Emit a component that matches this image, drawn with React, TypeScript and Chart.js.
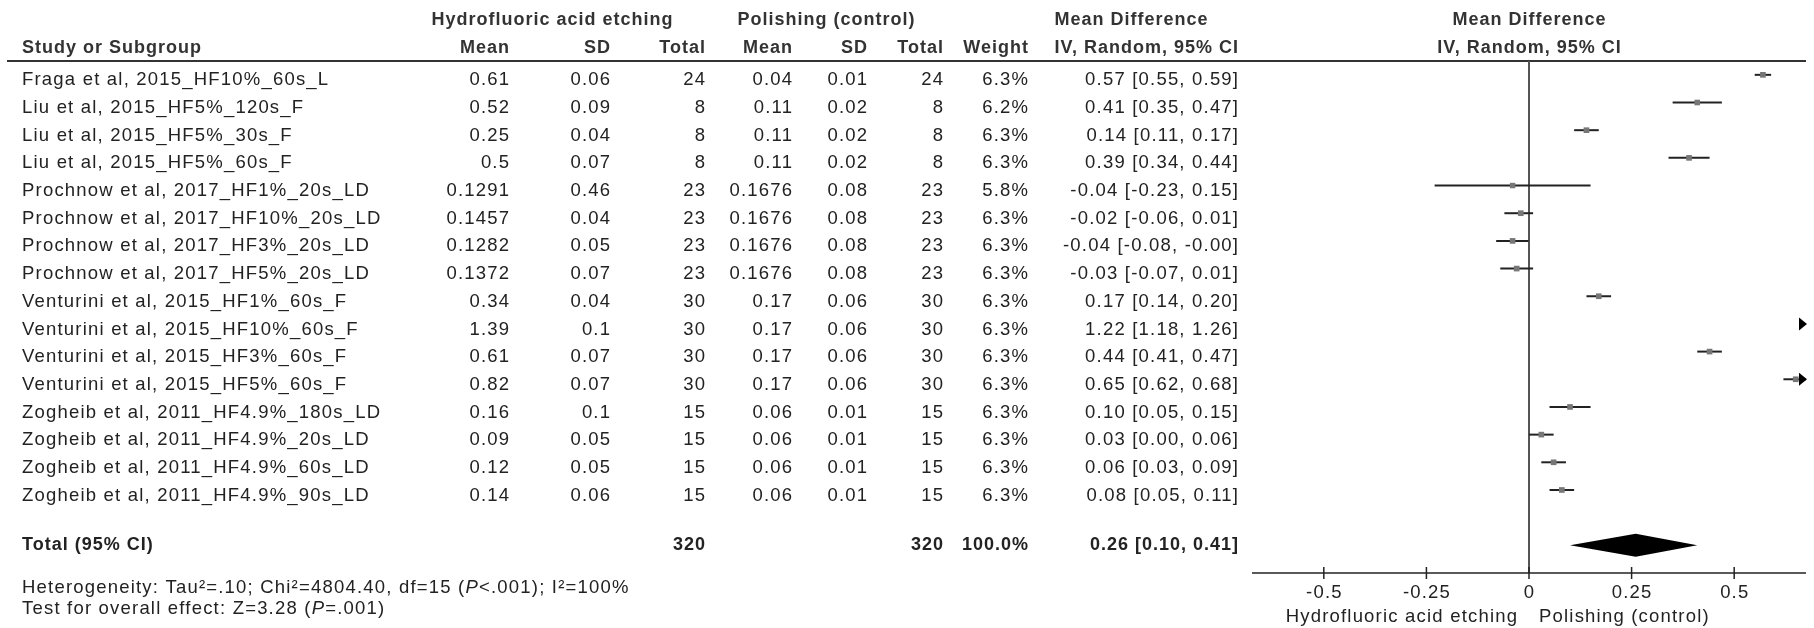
import React, { useEffect, useRef } from "react";
import { Chart, registerables } from "chart.js";

Chart.register(...registerables);

// ---------------- data ----------------
const studies = [
  "Fraga et al, 2015_HF10%_60s_L",
  "Liu et al, 2015_HF5%_120s_F",
  "Liu et al, 2015_HF5%_30s_F",
  "Liu et al, 2015_HF5%_60s_F",
  "Prochnow et al, 2017_HF1%_20s_LD",
  "Prochnow et al, 2017_HF10%_20s_LD",
  "Prochnow et al, 2017_HF3%_20s_LD",
  "Prochnow et al, 2017_HF5%_20s_LD",
  "Venturini et al, 2015_HF1%_60s_F",
  "Venturini et al, 2015_HF10%_60s_F",
  "Venturini et al, 2015_HF3%_60s_F",
  "Venturini et al, 2015_HF5%_60s_F",
  "Zogheib et al, 2011_HF4.9%_180s_LD",
  "Zogheib et al, 2011_HF4.9%_20s_LD",
  "Zogheib et al, 2011_HF4.9%_60s_LD",
  "Zogheib et al, 2011_HF4.9%_90s_LD",
];
const hfMean = [0.61, 0.52, 0.25, 0.5, 0.1291, 0.1457, 0.1282, 0.1372, 0.34, 1.39, 0.61, 0.82, 0.16, 0.09, 0.12, 0.14];
const hfSD = [0.06, 0.09, 0.04, 0.07, 0.46, 0.04, 0.05, 0.07, 0.04, 0.1, 0.07, 0.07, 0.1, 0.05, 0.05, 0.06];
const hfTotal = [24, 8, 8, 8, 23, 23, 23, 23, 30, 30, 30, 30, 15, 15, 15, 15];
const polMean = [0.04, 0.11, 0.11, 0.11, 0.1676, 0.1676, 0.1676, 0.1676, 0.17, 0.17, 0.17, 0.17, 0.06, 0.06, 0.06, 0.06];
const polSD = [0.01, 0.02, 0.02, 0.02, 0.08, 0.08, 0.08, 0.08, 0.06, 0.06, 0.06, 0.06, 0.01, 0.01, 0.01, 0.01];
const polTotal = [24, 8, 8, 8, 23, 23, 23, 23, 30, 30, 30, 30, 15, 15, 15, 15];
const weights = [6.3, 6.2, 6.3, 6.3, 5.8, 6.3, 6.3, 6.3, 6.3, 6.3, 6.3, 6.3, 6.3, 6.3, 6.3, 6.3];
const md = [0.57, 0.41, 0.14, 0.39, -0.04, -0.02, -0.04, -0.03, 0.17, 1.22, 0.44, 0.65, 0.1, 0.03, 0.06, 0.08];
const ciLow = [0.55, 0.35, 0.11, 0.34, -0.23, -0.06, -0.08, -0.07, 0.14, 1.18, 0.41, 0.62, 0.05, 0.0, 0.03, 0.05];
const ciHigh = [0.59, 0.47, 0.17, 0.44, 0.15, 0.01, -0.001, 0.01, 0.2, 1.26, 0.47, 0.68, 0.15, 0.06, 0.09, 0.11];

const totalHF = 320;
const totalPol = 320;
const totalWeight = 100.0;
const totalMD = 0.26;
const totalLow = 0.1;
const totalHigh = 0.41;

const xTicks = [-0.5, -0.25, 0, 0.25, 0.5];
const xTickLabels = ["-0.5", "-0.25", "0", "0.25", "0.5"];
const X_MIN = -0.675;
const X_MAX = 0.675;
const TOTAL_ROW = 17;

const groupHeaders = ["Hydrofluoric acid etching", "Polishing (control)", "Mean Difference"];
const colHeaders = ["Study or Subgroup", "Mean", "SD", "Total", "Mean", "SD", "Total", "Weight", "IV, Random, 95% CI"];
const heterogeneity = [
  { t: "Heterogeneity: Tau²=.10; Chi²=4804.40, df=15 (" },
  { t: "P", i: true },
  { t: "<.001); I²=100%" },
];
const overallEffect = [{ t: "Test for overall effect: Z=3.28 (" }, { t: "P", i: true }, { t: "=.001)" }];
const favoursLeft = "Hydrofluoric acid etching";
const favoursRight = "Polishing (control)";

// ---------------- layout / style ----------------
const FAMILY = '"Liberation Sans", Arial, Helvetica, sans-serif';
const REG_SIZE = 18.5;
const REG_SP = 1.2;
const BOLD_SIZE = 18;
const BOLD_SP = 1.0;
const TEXT_COLOR = "#222";
const HEAD_COLOR = "#333";

const COL = {
  study: 22,
  hfMean: 509,
  hfSD: 610,
  hfTotal: 705,
  polMean: 792,
  polSD: 867,
  polTotal: 943,
  weight: 1028,
  ci: 1238,
};
const HEAD_Y1 = 20.5;
const HEAD_Y2 = 48;
const TEXT_DY = 5.5;

type Seg = { t: string; i?: boolean; b?: boolean };

function setFont(ctx: CanvasRenderingContext2D, bold: boolean, italic = false) {
  const size = bold ? BOLD_SIZE : REG_SIZE;
  ctx.font = `${italic ? "italic " : ""}${bold ? "bold " : ""}${size}px ${FAMILY}`;
  (ctx as any).letterSpacing = `${bold ? BOLD_SP : REG_SP}px`;
}

function drawText(
  ctx: CanvasRenderingContext2D,
  s: string,
  x: number,
  y: number,
  align: CanvasTextAlign,
  bold = false,
  color = TEXT_COLOR
) {
  setFont(ctx, bold);
  ctx.fillStyle = color;
  ctx.textBaseline = "middle";
  const w = ctx.measureText(s).width;
  let left = x;
  if (align === "right") left = x - w + (bold ? BOLD_SP : REG_SP);
  else if (align === "center") left = x - w / 2 + (bold ? BOLD_SP : REG_SP) / 2;
  ctx.textAlign = "left";
  ctx.fillText(s, left, y);
}

function drawRich(ctx: CanvasRenderingContext2D, segs: Seg[], x: number, y: number) {
  let cx = x;
  ctx.textBaseline = "middle";
  ctx.textAlign = "left";
  ctx.fillStyle = TEXT_COLOR;
  for (const s of segs) {
    setFont(ctx, !!s.b, !!s.i);
    ctx.fillText(s.t, cx, y);
    cx += ctx.measureText(s.t).width;
  }
}

const fmt2 = (v: number) => v.toFixed(2);
const ciText = (m: number, lo: number, hi: number) => `${fmt2(m)} [${fmt2(lo)}, ${fmt2(hi)}]`;

const forestPlugin = {
  id: "forest",
  beforeDatasetsDraw(chart: any) {
    const { ctx, chartArea, scales } = chart;
    const x = scales.x;
    const y = scales.y;
    ctx.save();
    // header rule
    ctx.strokeStyle = "#333";
    ctx.lineWidth = 2;
    ctx.beginPath();
    ctx.moveTo(7, chartArea.top);
    ctx.lineTo(chartArea.right, chartArea.top);
    ctx.stroke();
    // line of no effect
    ctx.strokeStyle = "#555";
    ctx.lineWidth = 2;
    ctx.beginPath();
    ctx.moveTo(x.getPixelForValue(0), chartArea.top);
    ctx.lineTo(x.getPixelForValue(0), chartArea.bottom);
    ctx.stroke();
    // confidence intervals
    ctx.strokeStyle = "#222";
    ctx.lineWidth = 2;
    for (let i = 0; i < studies.length; i++) {
      const lo = Math.max(ciLow[i], X_MIN);
      const hi = Math.min(ciHigh[i], X_MAX);
      if (lo >= hi) continue;
      const py = y.getPixelForValue(i);
      ctx.beginPath();
      ctx.moveTo(x.getPixelForValue(lo), py);
      ctx.lineTo(x.getPixelForValue(hi), py);
      ctx.stroke();
    }
    ctx.restore();
  },
  afterDatasetsDraw(chart: any) {
    const { ctx, chartArea, scales } = chart;
    const x = scales.x;
    const y = scales.y;
    ctx.save();
    ctx.fillStyle = "#000";
    // arrows for intervals running off the axis
    for (let i = 0; i < studies.length; i++) {
      const py = y.getPixelForValue(i);
      if (ciHigh[i] > X_MAX) {
        const tip = x.getPixelForValue(X_MAX) + 1;
        ctx.beginPath();
        ctx.moveTo(tip, py);
        ctx.lineTo(tip - 8, py - 6.5);
        ctx.lineTo(tip - 8, py + 6.5);
        ctx.closePath();
        ctx.fill();
      }
      if (ciLow[i] < X_MIN) {
        const tip = x.getPixelForValue(X_MIN) - 1;
        ctx.beginPath();
        ctx.moveTo(tip, py);
        ctx.lineTo(tip + 8, py - 6.5);
        ctx.lineTo(tip + 8, py + 6.5);
        ctx.closePath();
        ctx.fill();
      }
    }
    // pooled diamond
    const dy = y.getPixelForValue(TOTAL_ROW);
    ctx.beginPath();
    ctx.moveTo(x.getPixelForValue(totalLow), dy);
    ctx.lineTo(x.getPixelForValue(totalMD), dy - 11.5);
    ctx.lineTo(x.getPixelForValue(totalHigh), dy);
    ctx.lineTo(x.getPixelForValue(totalMD), dy + 11.5);
    ctx.closePath();
    ctx.fill();

    // x axis
    const ay = chartArea.bottom;
    ctx.strokeStyle = "#222";
    ctx.lineWidth = 1.5;
    ctx.beginPath();
    ctx.moveTo(chartArea.left, ay);
    ctx.lineTo(chartArea.right, ay);
    ctx.stroke();
    xTicks.forEach((t) => {
      const px = x.getPixelForValue(t);
      ctx.beginPath();
      ctx.moveTo(px, ay - 6);
      ctx.lineTo(px, ay + 6);
      ctx.stroke();
    });
    xTicks.forEach((t, k) => {
      drawText(ctx, xTickLabels[k], x.getPixelForValue(t), ay + 20, "center");
    });
    const zx = x.getPixelForValue(0);
    drawText(ctx, favoursLeft, zx - 12, ay + 44, "right");
    drawText(ctx, favoursRight, zx + 10, ay + 44, "left");
    ctx.restore();
  },
  afterDraw(chart: any) {
    const { ctx, chartArea, scales } = chart;
    const y = scales.y;
    ctx.save();
    // header
    drawText(ctx, groupHeaders[0], 552, HEAD_Y1, "center", true, HEAD_COLOR);
    drawText(ctx, groupHeaders[1], 826, HEAD_Y1, "center", true, HEAD_COLOR);
    drawText(ctx, groupHeaders[2], 1131, HEAD_Y1, "center", true, HEAD_COLOR);
    const plotCenter = (chartArea.left + chartArea.right) / 2;
    drawText(ctx, groupHeaders[2], plotCenter, HEAD_Y1, "center", true, HEAD_COLOR);
    drawText(ctx, colHeaders[0], COL.study, HEAD_Y2, "left", true, HEAD_COLOR);
    drawText(ctx, colHeaders[1], COL.hfMean, HEAD_Y2, "right", true, HEAD_COLOR);
    drawText(ctx, colHeaders[2], COL.hfSD, HEAD_Y2, "right", true, HEAD_COLOR);
    drawText(ctx, colHeaders[3], COL.hfTotal, HEAD_Y2, "right", true, HEAD_COLOR);
    drawText(ctx, colHeaders[4], COL.polMean, HEAD_Y2, "right", true, HEAD_COLOR);
    drawText(ctx, colHeaders[5], COL.polSD, HEAD_Y2, "right", true, HEAD_COLOR);
    drawText(ctx, colHeaders[6], COL.polTotal, HEAD_Y2, "right", true, HEAD_COLOR);
    drawText(ctx, colHeaders[7], COL.weight, HEAD_Y2, "right", true, HEAD_COLOR);
    drawText(ctx, colHeaders[8], COL.ci, HEAD_Y2, "right", true, HEAD_COLOR);
    drawText(ctx, colHeaders[8], plotCenter, HEAD_Y2, "center", true, HEAD_COLOR);

    // study rows
    for (let i = 0; i < studies.length; i++) {
      const ty = y.getPixelForValue(i) + TEXT_DY;
      drawText(ctx, studies[i], COL.study, ty, "left");
      drawText(ctx, String(hfMean[i]), COL.hfMean, ty, "right");
      drawText(ctx, String(hfSD[i]), COL.hfSD, ty, "right");
      drawText(ctx, String(hfTotal[i]), COL.hfTotal, ty, "right");
      drawText(ctx, String(polMean[i]), COL.polMean, ty, "right");
      drawText(ctx, String(polSD[i]), COL.polSD, ty, "right");
      drawText(ctx, String(polTotal[i]), COL.polTotal, ty, "right");
      drawText(ctx, weights[i].toFixed(1) + "%", COL.weight, ty, "right");
      drawText(ctx, ciText(md[i], ciLow[i], ciHigh[i]), COL.ci, ty, "right");
    }
    // total row
    const tty = y.getPixelForValue(TOTAL_ROW);
    drawText(ctx, "Total (95% CI)", COL.study, tty, "left", true);
    drawText(ctx, String(totalHF), COL.hfTotal, tty, "right", true);
    drawText(ctx, String(totalPol), COL.polTotal, tty, "right", true);
    drawText(ctx, totalWeight.toFixed(1) + "%", COL.weight, tty, "right", true);
    drawText(ctx, ciText(totalMD, totalLow, totalHigh), COL.ci, tty, "right", true);

    // footnotes
    drawRich(ctx, heterogeneity, COL.study, chartArea.bottom + 15);
    drawRich(ctx, overallEffect, COL.study, chartArea.bottom + 36);
    ctx.restore();
  },
};

export default function App() {
  const ref = useRef<HTMLCanvasElement | null>(null);
  useEffect(() => {
    const canvas = ref.current;
    if (!canvas) return;
    const chart = new Chart(canvas, {
      type: "scatter",
      data: {
        datasets: [
          {
            data: studies.map((_, i) => ({ x: md[i], y: i })),
            pointStyle: "rect",
            pointRadius: weights.map((w) => 4.0 * Math.sqrt(w / 6.3)),
            pointHoverRadius: weights.map((w) => 4.0 * Math.sqrt(w / 6.3)),
            backgroundColor: "#777",
            borderColor: "#777",
            borderWidth: 0,
          } as any,
        ],
      },
      options: {
        responsive: false,
        animation: false,
        events: [],
        layout: { padding: { left: 1252, right: 8, top: 61, bottom: 55 } },
        scales: {
          x: { type: "linear", min: X_MIN, max: X_MAX, display: false },
          y: { type: "linear", min: -0.5, max: 18, reverse: true, display: false },
        },
        plugins: { legend: { display: false }, tooltip: { enabled: false } },
      },
      plugins: [forestPlugin as any],
    });
    return () => chart.destroy();
  }, []);
  return (
    <div style={{ position: "absolute", left: 0, top: 0, width: 1814, height: 628, background: "#fff" }}>
      <canvas ref={ref} width={1814} height={628} style={{ display: "block", width: 1814, height: 628 }} />
    </div>
  );
}
